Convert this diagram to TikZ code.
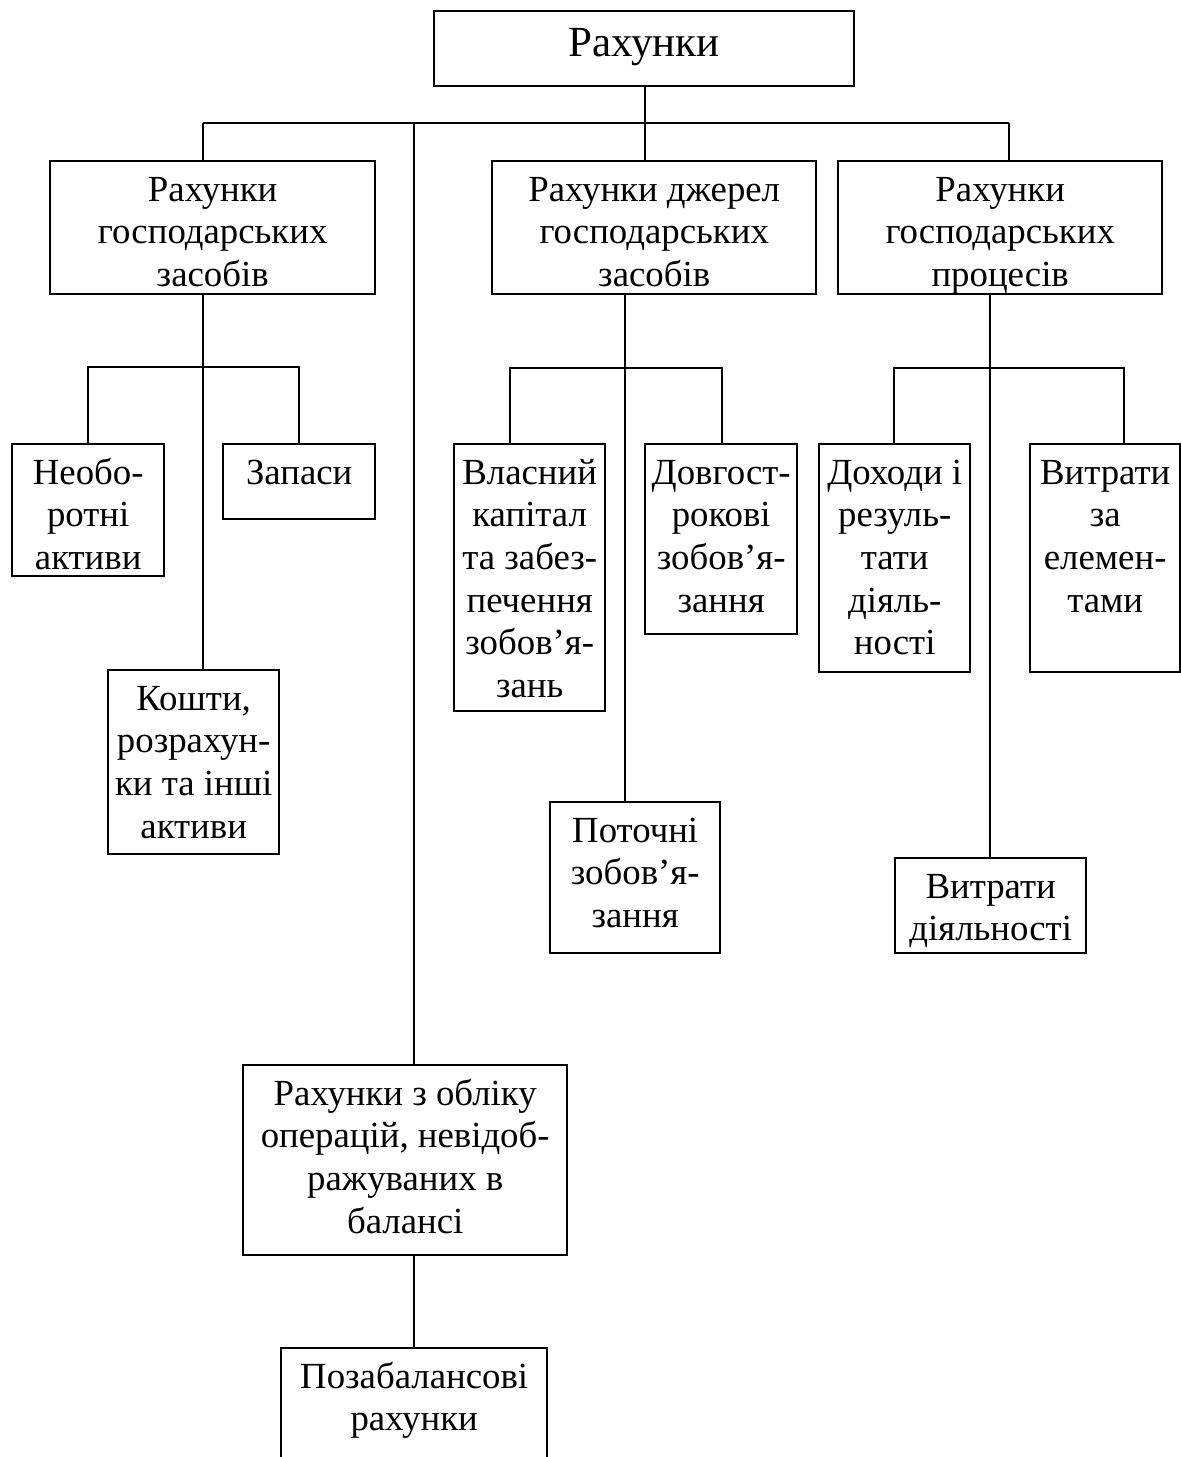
\documentclass[tikz,border=0pt]{standalone}
\usepackage{fontspec}
\setmainfont{Liberation Serif}
\tikzset{
  boxst/.style={draw, line width=1.2pt, inner sep=0pt, anchor=north west},
  conn/.style={line width=1.2pt}
}
\newcommand\acbox[6]{%
  \node[boxst] (#1) at (#2,#3)
  {\parbox[t][\dimexpr(#5pt-#3pt)/2\relax][t]{\dimexpr(#4pt-#2pt)/2\relax}{\centering\rule{0pt}{20pt}#6\par}};}
\begin{document}
\begin{tikzpicture}[x=0.5pt,y=-0.5pt,font=\fontsize{18.4pt}{21.3pt}\selectfont]
\useasboundingbox (0,0) rectangle (1181,1457);
% top box
\node[boxst] (tb) at (433,10)
  {\parbox[t][37.5pt][t]{210pt}{\centering\fontsize{21.5pt}{24pt}\selectfont\rule{0pt}{22.5pt}Рахунки\par}};
% level 1
\acbox{L}{49}{160}{374}{293}{Рахунки\\господарських\\засобів}
\acbox{M}{491}{160}{815}{293}{Рахунки джерел\\господарських\\засобів}
\acbox{R}{837}{160}{1161}{293}{Рахунки\\господарських\\процесів}
% left subtree
\acbox{n1}{11}{443}{163}{575}{Необо-\\ротні\\активи}
\acbox{n2}{222}{443}{374}{518}{Запаси}
\acbox{n3}{107}{669}{278}{853}{Кошти,\\розрахун-\\ки та інші\\активи}
% middle subtree
\acbox{m1}{453}{443}{604}{710}{Власний\\капітал\\та забез-\\печення\\зобов’я-\\зань}
\acbox{m2}{644}{443}{796}{633}{Довгост-\\рокові\\зобов’я-\\зання}
\acbox{m3}{549}{801}{719}{952}{Поточні\\зобов’я-\\зання}
% right subtree
\acbox{r1}{818}{443}{969}{671}{Доходи і\\резуль-\\тати\\діяль-\\ності}
\acbox{r2}{1029}{443}{1179}{671}{Витрати\\за\\елемен-\\тами}
\acbox{r3}{894}{857}{1085}{952}{Витрати\\діяльності}
% off-balance branch
\acbox{ob}{242}{1064}{566}{1254}{Рахунки з обліку\\операцій, невідоб-\\ражуваних в\\балансі}
\acbox{pz}{280}{1347}{546}{1475}{Позабалансові\\рахунки}
% junction coordinates
\coordinate (hL) at (203,123);
\coordinate (hR) at (1009,123);
\coordinate (hC) at (645,123);
\coordinate (hO) at (414,123);
\coordinate (lA) at (88,367);
\coordinate (lB) at (299,367);
\coordinate (lC) at (203,367);
\coordinate (mA) at (510,368);
\coordinate (mB) at (722,368);
\coordinate (mC) at (625,368);
\coordinate (rA) at (894,368);
\coordinate (rB) at (1124,368);
\coordinate (rC) at (990,368);
% connectors
\draw[conn] (hL) -- (hR);
\draw[conn] (hC |- tb.south) -- (hC |- M.north);
\draw[conn] (hL) -- (hL |- L.north);
\draw[conn] (hR) -- (hR |- R.north);
\draw[conn] (hO) -- (hO |- ob.north);
\draw[conn] (hO |- ob.south) -- (hO |- pz.north);
\draw[conn] (lC |- L.south) -- (lC |- n3.north);
\draw[conn] (lA |- n1.north) -- (lA) -- (lB) -- (lB |- n2.north);
\draw[conn] (mC |- M.south) -- (mC |- m3.north);
\draw[conn] (mA |- m1.north) -- (mA) -- (mB) -- (mB |- m2.north);
\draw[conn] (rC |- R.south) -- (rC |- r3.north);
\draw[conn] (rA |- r1.north) -- (rA) -- (rB) -- (rB |- r2.north);
\end{tikzpicture}
\end{document}
